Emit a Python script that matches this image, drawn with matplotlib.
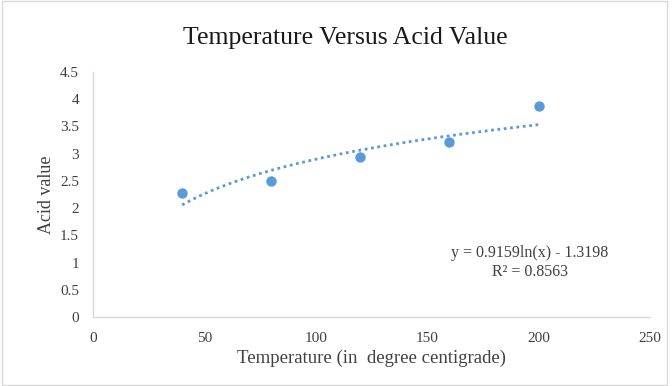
import numpy as np
import matplotlib
matplotlib.use("Agg")
import matplotlib.pyplot as plt
from matplotlib.patches import Rectangle

# Data
temperature = [40, 80, 120, 160, 200]
acid_value = [2.27, 2.50, 2.94, 3.21, 3.88]

# Logarithmic trendline as printed on the chart
slope = 0.9159
intercept = -1.3198
r_squared = 0.8563

x_ticks = [0, 50, 100, 150, 200, 250]
y_ticks = [0, 0.5, 1, 1.5, 2, 2.5, 3, 3.5, 4, 4.5]

blue = "#5B9BD5"
grey = "#D9D9D9"

plt.rcParams["font.family"] = ["Liberation Serif", "DejaVu Serif"]

W, H = 672, 386
fig = plt.figure(figsize=(W / 100, H / 100), dpi=100)
ax = fig.add_axes([93 / W, 1 - 317 / H, (650 - 93) / W, (317 - 72) / H])

# outer chart border
fig.patches.append(Rectangle((0.003, 0.003), 0.99, 0.994, transform=fig.transFigure,
                             fill=False, edgecolor=grey, linewidth=1))

ax.scatter(temperature, acid_value, s=42, color=blue, zorder=3)

xs = np.linspace(min(temperature), max(temperature), 200)
ax.plot(xs, slope * np.log(xs) + intercept, color=blue, linestyle=(0, (1, 1.3)),
        linewidth=2, zorder=2)

ax.set_xlim(0, 250)
ax.set_ylim(0, 4.5)
ax.set_xticks(x_ticks)
ax.set_yticks(y_ticks)
ax.set_xticklabels([str(t) for t in x_ticks])
ax.set_yticklabels([f"{t:g}" for t in y_ticks])
ax.tick_params(length=0, labelsize=11, colors="#404040")
ax.tick_params(axis="x", pad=11)
ax.tick_params(axis="y", pad=10)

for side in ["top", "right"]:
    ax.spines[side].set_visible(False)
for side in ["left", "bottom"]:
    ax.spines[side].set_color(grey)
    ax.spines[side].set_linewidth(1)

fig.text(345 / W, 1 - 38 / H, "Temperature Versus Acid Value", ha="center", va="center",
         fontsize=18.5, color="#1a1a1a")
ax.set_xlabel("Temperature (in  degree centigrade)", fontsize=13.5, color="#404040", labelpad=3)
ax.set_ylabel("Acid value", fontsize=13, color="#404040", labelpad=4)

fig.text(530 / W, 1 - 253 / H, f"y = {slope}ln(x) - {abs(intercept)}",
         ha="center", va="center", fontsize=11.5, color="#404040")
fig.text(530 / W, 1 - 272 / H, f"R\u00b2 = {r_squared}",
         ha="center", va="center", fontsize=11.5, color="#404040")

fig.savefig("out.png", dpi=100)
